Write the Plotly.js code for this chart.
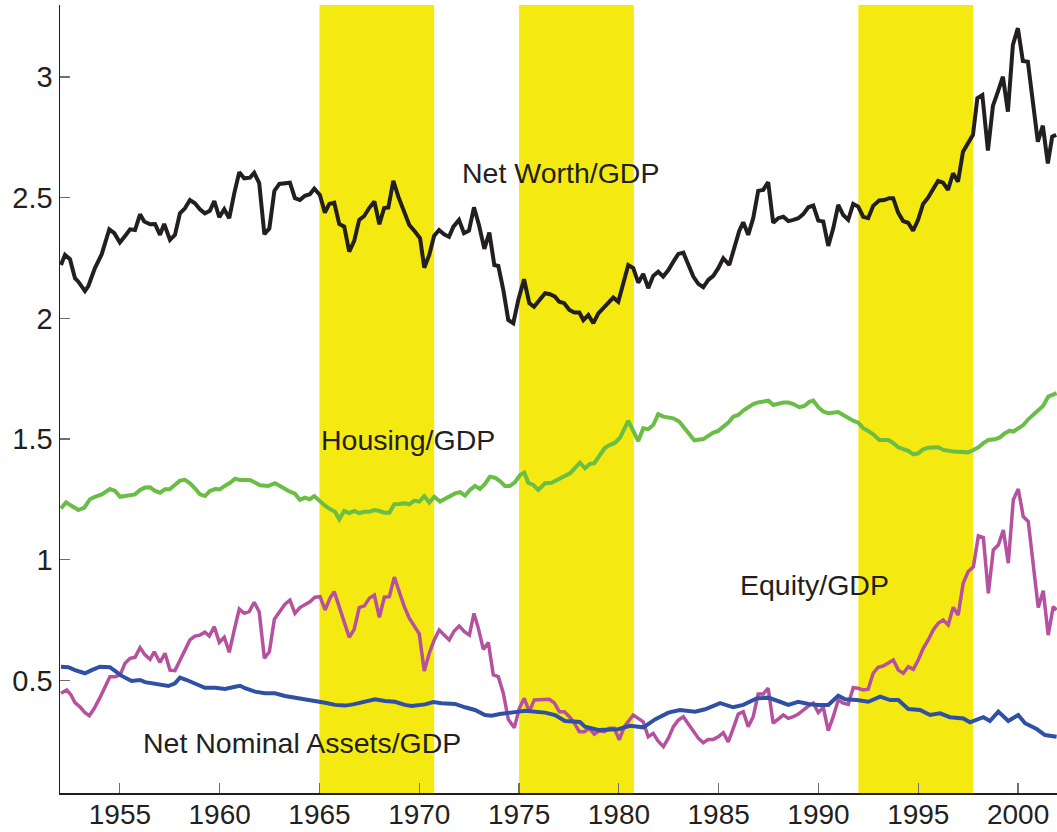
<!DOCTYPE html>
<html>
<head>
<meta charset="utf-8">
<script src="https://cdn.plot.ly/plotly-3.0.1.min.js"></script>
<style>
  html, body { margin: 0; padding: 0; background: #ffffff; }
  #chart { width: 1057px; height: 832px; }
</style>
</head>
<body>
<div id="chart"></div>
<script>
// ---- Data ----
const nwYears = [1952.05,1952.25,1952.5,1952.75,1952.92,1953.25,1953.42,1953.75,1954.09,1954.47,1954.72,1955.0,1955.26,1955.51,1955.76,1956.01,1956.22,1956.51,1956.76,1957.01,1957.22,1957.51,1957.76,1958.01,1958.26,1958.51,1958.76,1959.01,1959.26,1959.51,1959.73,1959.98,1960.23,1960.48,1960.73,1960.98,1961.23,1961.52,1961.73,1961.98,1962.24,1962.49,1962.74,1962.99,1963.52,1963.77,1964.02,1964.27,1964.52,1964.74,1965.02,1965.27,1965.49,1965.74,1965.99,1966.24,1966.49,1966.74,1966.99,1967.24,1967.49,1967.75,1968.0,1968.24,1968.45,1968.7,1968.95,1969.2,1969.5,1969.79,1970.04,1970.25,1970.5,1970.74,1970.99,1971.24,1971.49,1971.71,1971.99,1972.24,1972.49,1972.74,1972.99,1973.26,1973.51,1973.76,1973.96,1974.21,1974.46,1974.71,1974.96,1975.25,1975.51,1975.75,1976.01,1976.3,1976.55,1976.8,1977.01,1977.26,1977.52,1977.77,1978.02,1978.22,1978.47,1978.72,1978.97,1979.22,1979.47,1979.72,1979.97,1980.22,1980.47,1980.72,1980.97,1981.22,1981.47,1981.72,1981.97,1982.22,1982.48,1982.73,1982.98,1983.23,1983.48,1983.73,1983.98,1984.23,1984.48,1984.73,1984.98,1985.23,1985.53,1985.73,1986.03,1986.23,1986.48,1986.73,1986.98,1987.23,1987.48,1987.73,1987.98,1988.24,1988.49,1988.74,1988.99,1989.24,1989.49,1989.74,1989.99,1990.24,1990.49,1990.74,1990.99,1991.24,1991.49,1991.74,1991.99,1992.24,1992.49,1992.74,1993.04,1993.29,1993.54,1993.74,1993.99,1994.24,1994.49,1994.74,1994.99,1995.24,1995.49,1995.74,1995.99,1996.24,1996.49,1996.74,1996.99,1997.24,1997.49,1997.74,1997.96,1998.21,1998.49,1998.74,1998.99,1999.24,1999.49,1999.74,1999.99,2000.24,2000.49,2000.74,2000.99,2001.24,2001.49,2001.71,2001.91];
const nwValues = [2.221,2.263,2.245,2.166,2.152,2.113,2.134,2.208,2.266,2.369,2.353,2.314,2.341,2.369,2.366,2.431,2.401,2.390,2.391,2.346,2.391,2.325,2.346,2.435,2.456,2.490,2.477,2.452,2.435,2.446,2.486,2.419,2.452,2.415,2.518,2.605,2.580,2.583,2.603,2.560,2.348,2.373,2.528,2.557,2.562,2.498,2.490,2.508,2.514,2.537,2.511,2.438,2.474,2.479,2.391,2.380,2.276,2.321,2.408,2.424,2.457,2.484,2.390,2.457,2.459,2.570,2.504,2.449,2.387,2.359,2.332,2.210,2.263,2.341,2.366,2.348,2.338,2.380,2.408,2.353,2.363,2.460,2.387,2.288,2.355,2.221,2.217,2.118,1.993,1.980,2.076,2.162,2.063,2.048,2.076,2.104,2.100,2.090,2.069,2.063,2.035,2.024,2.024,1.993,2.014,1.980,2.021,2.042,2.065,2.086,2.069,2.152,2.221,2.208,2.148,2.184,2.125,2.176,2.193,2.173,2.200,2.235,2.267,2.272,2.221,2.173,2.143,2.129,2.159,2.176,2.208,2.249,2.221,2.283,2.362,2.398,2.346,2.415,2.528,2.532,2.564,2.396,2.415,2.421,2.403,2.408,2.415,2.432,2.460,2.467,2.405,2.401,2.300,2.373,2.470,2.428,2.408,2.474,2.463,2.421,2.415,2.466,2.488,2.490,2.498,2.498,2.438,2.403,2.396,2.363,2.408,2.474,2.500,2.535,2.569,2.562,2.532,2.601,2.566,2.690,2.728,2.760,2.912,2.925,2.695,2.880,2.939,3.001,2.856,3.133,3.202,3.066,3.063,2.898,2.732,2.798,2.642,2.753,2.760];

const hsYears = [1952.05,1952.3,1952.59,1952.92,1953.22,1953.5,1953.75,1954.09,1954.5,1954.76,1955.01,1955.34,1955.76,1956.01,1956.26,1956.51,1956.76,1957.01,1957.26,1957.51,1957.76,1958.01,1958.26,1958.51,1958.76,1959.01,1959.26,1959.51,1959.77,1960.02,1960.27,1960.52,1960.77,1961.02,1961.52,1961.77,1962.02,1962.44,1962.77,1963.02,1963.27,1963.52,1963.77,1964.02,1964.27,1964.52,1964.74,1965.03,1965.28,1965.53,1965.78,1965.99,1966.24,1966.49,1966.74,1966.99,1967.25,1967.5,1967.75,1968.0,1968.25,1968.5,1968.75,1969.0,1969.25,1969.5,1969.75,1970.0,1970.25,1970.5,1970.75,1971.04,1971.29,1971.54,1971.79,1972.04,1972.29,1972.54,1972.79,1973.04,1973.29,1973.54,1973.79,1974.04,1974.29,1974.54,1974.79,1975.05,1975.26,1975.46,1975.71,1975.96,1976.3,1976.63,1976.96,1977.22,1977.55,1977.8,1978.05,1978.3,1978.55,1978.77,1979.02,1979.3,1979.56,1979.81,1980.06,1980.26,1980.47,1980.72,1980.97,1981.22,1981.47,1981.72,1981.97,1982.23,1982.48,1982.73,1983.03,1983.28,1983.53,1983.78,1984.23,1984.48,1984.73,1984.98,1985.23,1985.48,1985.73,1985.98,1986.23,1986.48,1986.73,1986.98,1987.49,1987.74,1987.99,1988.24,1988.49,1988.74,1989.04,1989.29,1989.54,1989.74,1989.99,1990.24,1990.49,1990.99,1991.24,1991.49,1991.74,1991.99,1992.24,1992.49,1992.74,1993.05,1993.5,1993.75,1994.0,1994.25,1994.5,1994.75,1995.0,1995.25,1995.5,1996.0,1996.25,1996.75,1997.0,1997.25,1997.5,1997.76,1998.01,1998.26,1998.51,1998.84,1999.09,1999.34,1999.59,1999.76,2000.01,2000.26,2000.51,2000.76,2001.01,2001.26,2001.51,2001.68,2001.93];
const hsValues = [1.213,1.238,1.223,1.206,1.216,1.251,1.261,1.271,1.293,1.285,1.261,1.266,1.271,1.289,1.299,1.300,1.285,1.278,1.292,1.293,1.313,1.328,1.331,1.317,1.296,1.271,1.264,1.285,1.293,1.292,1.307,1.319,1.336,1.331,1.331,1.319,1.309,1.306,1.317,1.306,1.293,1.282,1.274,1.248,1.257,1.251,1.264,1.241,1.224,1.210,1.199,1.168,1.202,1.193,1.202,1.193,1.199,1.199,1.206,1.202,1.195,1.195,1.230,1.231,1.234,1.230,1.245,1.241,1.264,1.237,1.261,1.241,1.251,1.261,1.275,1.280,1.266,1.289,1.306,1.293,1.314,1.344,1.340,1.326,1.306,1.306,1.321,1.351,1.361,1.319,1.310,1.289,1.317,1.319,1.331,1.344,1.358,1.379,1.402,1.379,1.397,1.400,1.430,1.464,1.476,1.485,1.506,1.541,1.575,1.534,1.492,1.545,1.541,1.558,1.603,1.593,1.589,1.586,1.572,1.545,1.520,1.495,1.500,1.513,1.527,1.534,1.551,1.568,1.593,1.600,1.618,1.630,1.645,1.652,1.659,1.641,1.648,1.651,1.651,1.645,1.632,1.637,1.654,1.659,1.632,1.614,1.607,1.612,1.600,1.586,1.576,1.568,1.545,1.534,1.520,1.496,1.496,1.483,1.466,1.458,1.451,1.437,1.441,1.458,1.464,1.466,1.455,1.449,1.448,1.445,1.445,1.455,1.466,1.483,1.496,1.499,1.507,1.524,1.535,1.531,1.547,1.558,1.582,1.600,1.621,1.638,1.676,1.680,1.690];

const eqYears = [1952.05,1952.34,1952.55,1952.75,1953.0,1953.25,1953.47,1953.72,1954.0,1954.25,1954.5,1954.76,1955.01,1955.26,1955.51,1955.76,1956.01,1956.26,1956.51,1956.72,1957.01,1957.26,1957.51,1957.76,1958.01,1958.26,1958.51,1958.76,1959.01,1959.26,1959.48,1959.73,1959.98,1960.23,1960.48,1960.73,1960.98,1961.23,1961.48,1961.73,1961.98,1962.24,1962.49,1962.74,1962.99,1963.27,1963.52,1963.77,1964.02,1964.27,1964.52,1964.77,1965.03,1965.28,1965.53,1965.74,1965.99,1966.24,1966.49,1966.74,1966.99,1967.25,1967.5,1967.75,1968.0,1968.25,1968.5,1968.75,1969.0,1969.25,1969.5,1969.75,1970.0,1970.25,1970.5,1970.75,1971.0,1971.25,1971.5,1971.75,1972.0,1972.26,1972.51,1972.74,1972.96,1973.21,1973.46,1973.71,1973.96,1974.21,1974.46,1974.76,1975.01,1975.26,1975.51,1975.76,1976.05,1976.51,1976.76,1977.02,1977.27,1977.52,1977.77,1978.02,1978.27,1978.52,1978.77,1979.02,1979.27,1979.52,1979.77,1980.02,1980.27,1980.52,1980.72,1980.97,1981.22,1981.47,1981.72,1981.97,1982.23,1982.48,1982.73,1982.98,1983.23,1983.48,1983.73,1983.98,1984.23,1984.48,1984.73,1984.98,1985.23,1985.48,1985.73,1985.98,1986.23,1986.48,1986.73,1986.98,1987.23,1987.48,1987.73,1987.98,1988.24,1988.49,1988.74,1988.99,1989.24,1989.49,1989.74,1989.99,1990.24,1990.49,1990.74,1990.99,1991.24,1991.49,1991.74,1991.99,1992.24,1992.49,1992.74,1992.99,1993.24,1993.5,1993.75,1994.0,1994.25,1994.5,1994.75,1995.0,1995.25,1995.5,1995.75,1996.0,1996.25,1996.5,1996.75,1997.0,1997.25,1997.5,1997.76,1998.01,1998.26,1998.51,1998.76,1999.01,1999.26,1999.51,1999.76,2000.01,2000.26,2000.51,2000.76,2001.01,2001.26,2001.51,2001.76,2001.93];
const eqValues = [0.447,0.461,0.440,0.408,0.391,0.367,0.354,0.385,0.429,0.474,0.516,0.516,0.523,0.571,0.592,0.596,0.636,0.606,0.588,0.619,0.575,0.613,0.543,0.541,0.582,0.619,0.668,0.684,0.688,0.700,0.684,0.723,0.658,0.679,0.617,0.709,0.796,0.778,0.785,0.824,0.785,0.592,0.619,0.754,0.785,0.816,0.833,0.778,0.802,0.816,0.826,0.845,0.847,0.792,0.841,0.868,0.806,0.739,0.679,0.712,0.802,0.809,0.841,0.854,0.762,0.845,0.847,0.928,0.861,0.806,0.758,0.723,0.693,0.539,0.613,0.668,0.709,0.688,0.668,0.705,0.726,0.702,0.688,0.778,0.716,0.629,0.657,0.523,0.516,0.447,0.339,0.304,0.385,0.426,0.371,0.419,0.419,0.422,0.408,0.371,0.371,0.350,0.323,0.288,0.288,0.302,0.278,0.292,0.288,0.302,0.302,0.254,0.309,0.336,0.357,0.343,0.329,0.267,0.281,0.249,0.226,0.261,0.309,0.336,0.350,0.320,0.288,0.261,0.242,0.256,0.256,0.267,0.284,0.246,0.302,0.361,0.371,0.309,0.350,0.444,0.444,0.468,0.323,0.339,0.357,0.343,0.350,0.361,0.378,0.394,0.406,0.367,0.389,0.292,0.350,0.419,0.406,0.401,0.470,0.468,0.461,0.464,0.530,0.555,0.560,0.571,0.585,0.543,0.530,0.557,0.546,0.585,0.633,0.668,0.709,0.737,0.751,0.730,0.803,0.771,0.903,0.951,0.971,1.099,1.092,0.861,1.041,1.061,1.123,0.986,1.248,1.293,1.179,1.158,0.986,0.802,0.872,0.688,0.806,0.792];

const naYears = [1952.05,1952.42,1952.75,1953.25,1953.59,1954.0,1954.5,1954.76,1955.09,1955.59,1956.01,1956.26,1956.59,1956.92,1957.43,1957.76,1958.01,1958.35,1958.76,1959.26,1959.77,1960.27,1960.77,1961.02,1961.27,1961.77,1962.27,1962.77,1963.27,1963.77,1964.27,1964.78,1965.28,1965.78,1966.28,1966.69,1967.2,1967.78,1968.28,1968.78,1969.28,1969.62,1970.29,1970.7,1971.12,1971.79,1972.29,1972.79,1973.29,1973.63,1974.04,1974.46,1974.88,1975.3,1975.8,1976.3,1976.8,1977.3,1978.05,1978.3,1978.97,1979.97,1980.56,1981.23,1981.81,1982.48,1983.06,1983.82,1984.32,1985.07,1985.73,1986.23,1986.9,1987.49,1988.07,1988.49,1988.99,1989.49,1989.99,1990.49,1990.99,1991.33,1991.92,1992.5,1993.09,1993.59,1994.0,1994.5,1995.09,1995.59,1996.09,1996.59,1997.26,1997.59,1998.26,1998.59,1999.01,1999.51,2000.01,2000.35,2000.93,2001.35,2001.93];
const naValues = [0.557,0.555,0.543,0.530,0.543,0.557,0.555,0.539,0.519,0.498,0.502,0.493,0.488,0.484,0.477,0.488,0.512,0.502,0.488,0.470,0.470,0.465,0.474,0.478,0.468,0.454,0.447,0.447,0.436,0.430,0.422,0.416,0.408,0.399,0.396,0.401,0.412,0.422,0.415,0.412,0.399,0.394,0.401,0.411,0.406,0.403,0.389,0.378,0.357,0.354,0.361,0.364,0.370,0.375,0.371,0.367,0.357,0.332,0.328,0.309,0.295,0.298,0.312,0.306,0.339,0.367,0.378,0.371,0.381,0.406,0.389,0.399,0.426,0.429,0.412,0.399,0.412,0.403,0.399,0.399,0.437,0.422,0.419,0.412,0.433,0.419,0.419,0.382,0.378,0.357,0.364,0.348,0.343,0.327,0.348,0.332,0.371,0.332,0.357,0.323,0.299,0.274,0.267];

// shaded periods (start, end years)
const bandStarts = [1965.0, 1975.0, 1992.0];
const bandEnds   = [1970.75, 1980.75, 1997.75];

// tick labels
const xTickVals = [1955, 1960, 1965, 1970, 1975, 1980, 1985, 1990, 1995, 2000];
const xTickText = ['1955','1960','1965','1970','1975','1980','1985','1990','1995','2000'];
const yTickVals = [0.5, 1, 1.5, 2, 2.5, 3];
const yTickText = ['0.5','1','1.5','2','2.5','3'];

// in-plot labels
const labelTexts = ['Net Worth/GDP', 'Housing/GDP', 'Equity/GDP', 'Net Nominal Assets/GDP'];
const labelX = [1977.05, 1969.43, 1989.78, 1964.12];
const labelY = [2.602, 1.496, 0.896, 0.241];

// ---- Figure ----
const FONT = '"Liberation Sans", Arial, Helvetica, sans-serif';
const TXT = '#231f20';

const traces = [
  { x: hsYears, y: hsValues, type: 'scatter', mode: 'lines', line: { color: '#6abd45', width: 4 }, hoverinfo: 'skip' },
  { x: eqYears, y: eqValues, type: 'scatter', mode: 'lines', line: { color: '#b6519f', width: 3.5 }, hoverinfo: 'skip' },
  { x: naYears, y: naValues, type: 'scatter', mode: 'lines', line: { color: '#2f50a4', width: 4 }, hoverinfo: 'skip' },
  { x: nwYears, y: nwValues, type: 'scatter', mode: 'lines', line: { color: '#231f20', width: 4 }, hoverinfo: 'skip' }
];

const shapes = bandStarts.map((s, i) => ({
  type: 'rect', xref: 'x', yref: 'paper', x0: s, x1: bandEnds[i], y0: 0, y1: 1,
  fillcolor: '#f5e912', line: { width: 0 }, layer: 'below'
}));

const annotations = labelTexts.map((t, i) => ({
  text: t, x: labelX[i], y: labelY[i], xref: 'x', yref: 'y',
  showarrow: false, xanchor: 'center', yanchor: 'middle',
  font: { family: FONT, size: 28.5, color: TXT }
}));

const layout = {
  width: 1057, height: 832,
  margin: { l: 60, r: 0, t: 5, b: 39, pad: 0 },
  paper_bgcolor: '#ffffff', plot_bgcolor: '#ffffff',
  showlegend: false,
  font: { family: FONT, color: TXT },
  xaxis: {
    range: [1952.0, 2001.95], showgrid: false, zeroline: false,
    showline: true, linecolor: '#231f20', linewidth: 1.5, mirror: false,
    ticks: 'inside', ticklen: 10, tickwidth: 1.2, tickcolor: '#6d6e71',
    tickvals: xTickVals, ticktext: xTickText, ticklabelstandoff: -4,
    tickfont: { family: FONT, size: 28, color: TXT }
  },
  yaxis: {
    range: [0.034, 3.298], showgrid: false, zeroline: false,
    showline: true, linecolor: '#231f20', linewidth: 1.5, mirror: false,
    ticks: 'inside', ticklen: 10, tickwidth: 1.2, tickcolor: '#6d6e71',
    tickvals: yTickVals, ticktext: yTickText,
    tickfont: { family: FONT, size: 29, color: TXT }
  },
  shapes: shapes,
  annotations: annotations
};

Plotly.newPlot('chart', traces, layout, { staticPlot: true, displayModeBar: false });
</script>
</body>
</html>
